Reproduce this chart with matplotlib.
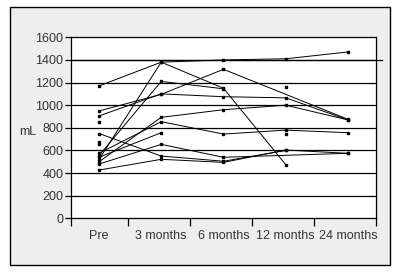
import matplotlib
matplotlib.use("Agg")
import matplotlib.pyplot as plt
from matplotlib.patches import Rectangle

# time points and patient volumes (mL), None = not measured
cats = ["Pre", "3 months", "6 months", "12 months", "24 months"]
patients = [
    [1170, 1380, 1400, 1410, 1470],
    [520, 1380, 1150, 475, None],
    [555, 1210, 1145, None, None],
    [949, 1096, 1317, None, 875],
    [905, 1100, 1075, 1065, 870],
    [500, 893, 960, 1000, 870],
    [575, 854, 745, 780, 757],
    [540, 757, None, None, None],
    [750, 551, 505, 600, None],
    [480, 654, 540, None, 575],
    [427, 522, 495, 604, 575],
]
# isolated measurements (no connecting line)
single_x = [0, 0, 0, 3, 3]
single_y = [854, 677, 654, 1165, 745]

ylim = (0, 1600)
yticks = list(range(0, 1601, 200))

plt.rcParams["font.family"] = ["Liberation Sans", "DejaVu Sans"]

fig = plt.figure(figsize=(4.03, 2.72), dpi=100, facecolor="white")
fig.patches.append(Rectangle((0.026, 0.026), 0.942, 0.948, transform=fig.transFigure,
                             facecolor="#eeeeee", edgecolor="black", lw=1, zorder=-5))
ax = fig.add_axes([0.176, 0.197, 0.757, 0.666])
ax.set_facecolor("white")

for p in patients:
    xs = [i for i, v in enumerate(p) if v is not None]
    ys = [v for v in p if v is not None]
    ax.plot(xs, ys, color="black", lw=0.7, marker="s", markersize=1.8, zorder=3)
ax.plot(single_x, single_y, ls="none", color="black", marker="s", markersize=1.8, zorder=3)

# gridlines
for y in yticks[1:-1]:
    ax.axhline(y, color="black", lw=0.9, zorder=1)
ax.plot([-0.45, 4.55], [1400, 1400], color="black", lw=0.9, clip_on=False, zorder=1)

ax.set_xlim(-0.45, 4.45)
ax.set_ylim(*ylim)
ax.set_yticks(yticks)
ax.set_yticklabels([str(v) for v in yticks])
ax.set_xticks([-0.45, 0.46, 1.46, 2.46, 3.46, 4.45])
ax.set_xticklabels([])
ax.set_xticks(range(len(cats)), minor=True)
ax.set_xticklabels(cats, minor=True)
ax.tick_params(axis="x", which="major", length=6, width=0.9, color="black")
ax.tick_params(axis="x", which="minor", length=0, pad=8, labelsize=9, labelcolor="#333333")
ax.tick_params(axis="y", length=4.5, width=0.9, pad=1, labelsize=9, labelcolor="#333333")
ax.set_ylabel("mL", rotation=0, fontsize=9, color="#333333", ha="center", va="center")
ax.yaxis.set_label_coords(-0.141, 0.477)
for s in ax.spines.values():
    s.set_linewidth(0.9)
    s.set_color("black")

fig.savefig("out.png", dpi=100, facecolor="white")
